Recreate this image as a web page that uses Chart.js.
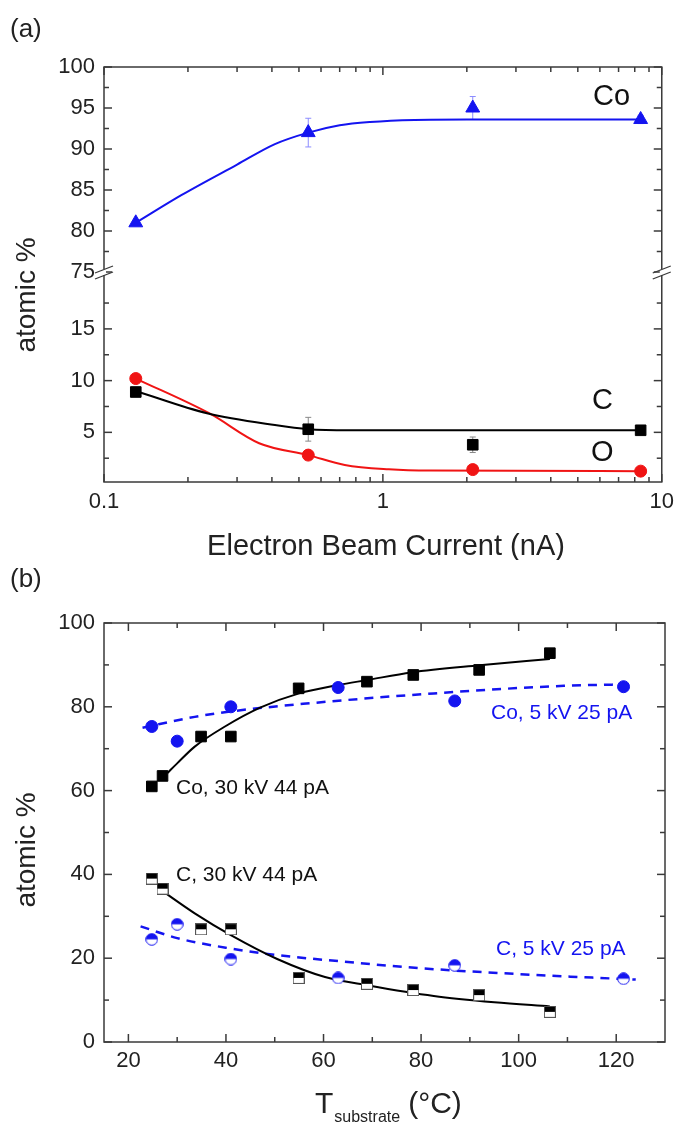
<!DOCTYPE html>
<html>
<head>
<meta charset="utf-8">
<title>atomic % vs beam current and substrate temperature</title>
<script src="https://cdn.jsdelivr.net/npm/chart.js@4.4.0/dist/chart.umd.min.js"></script>
<style>
  html, body { margin: 0; padding: 0; background: #fff; }
  #wrap { position: relative; width: 681px; height: 1124px; }
  canvas { position: absolute; left: 0; }
  #chartA { top: 0; }
  #chartB { top: 560px; }
</style>
</head>
<body>
<div id="wrap">
  <canvas id="chartA" width="681" height="560"></canvas>
  <canvas id="chartB" width="681" height="564"></canvas>
</div>
<script>
// ===== Data (a): composition vs electron beam current =====
const currentNA = [0.13, 0.54, 2.1, 8.4];
const coA = [81.0, 92.0, 95.0, 93.6];
const cA = [8.9, 5.3, 3.8, 5.2];
const oA = [10.2, 2.8, 1.4, 1.25];
const coAErr = [0.3, 1.75, 1.4, 0.5];
const cAErr = [0.3, 1.15, 0.75, 0.25];

// guide-to-the-eye curves
const coFitAX = [0.13, 0.19, 0.3, 0.41, 0.54, 0.7, 0.9, 1.3, 2, 8.4];
const coFitAY = [81, 84.4, 88.1, 90.6, 92, 92.9, 93.3, 93.55, 93.6, 93.6];
const cFitAX = [0.13, 0.234, 0.41, 0.54, 0.76, 8.4];
const cFitAY = [9.0, 6.85, 5.7, 5.3, 5.2, 5.2];
const oFitAX = [0.13, 0.24, 0.36, 0.54, 0.73, 1.05, 1.48, 8.4];
const oFitAY = [10.2, 6.8, 3.95, 2.8, 1.85, 1.43, 1.3, 1.25];

// ===== Data (b): composition vs substrate temperature =====
const tBlack = [24.8, 27.0, 34.9, 41.0, 54.9, 68.9, 78.4, 91.9, 106.4];
const coB30 = [61.0, 63.5, 72.9, 72.9, 84.4, 86.0, 87.6, 88.8, 92.8];
const cB30 = [39.0, 36.6, 26.9, 26.9, 15.3, 13.9, 12.4, 11.2, 7.2];
const tBlue = [24.8, 30.0, 41.0, 63.0, 86.9, 121.5];
const coB5 = [75.3, 71.8, 80.0, 84.6, 81.4, 84.8];
const cB5 = [24.5, 28.1, 19.8, 15.3, 18.3, 15.1];

const coFit30X = [28, 30, 33.6, 39.8, 47, 55, 63, 69, 78, 92, 106.4];
const coFit30Y = [64.2, 66.5, 70.5, 75.3, 79.8, 83.2, 85.2, 86.4, 88.2, 89.9, 91.4];
const coFit5X = [22.9, 33.6, 41, 55.8, 82.6, 109.3, 124];
const coFit5Y = [75.0, 77.6, 78.9, 80.7, 83.2, 85.0, 85.4];
const cFit30X = [27, 33.6, 41, 50.5, 60.3, 69.2, 82.6, 95, 106.4];
const cFit30Y = [36.0, 30.7, 25.5, 19.8, 15.5, 13.5, 11.0, 9.5, 8.5];
const cFit5X = [22.5, 30, 41, 50, 63, 80, 100, 124];
const cFit5Y = [27.6, 24.8, 22.3, 20.8, 19.3, 17.6, 16.2, 14.9];

// ===== Tick labels =====
const xTicksA = [0.1, 1, 10];
const yTicksTop = [75, 80, 85, 90, 95, 100];
const yTicksBot = [5, 10, 15];
const xTicksB = [20, 40, 60, 80, 100, 120];
const yTicksB = [0, 20, 40, 60, 80, 100];

// ===== Styles =====
const FONT = "'Liberation Sans', Arial, Helvetica, sans-serif";
const BLUE = '#1414f0';
const RED = '#f01414';
const AXIS = '#3a3a3a';
const tickFont = { family: FONT, size: 22 };

const pts = (xs, ys) => xs.map((x, i) => ({ x, y: ys[i] }));

function fit(xs, ys, axis, color, dash) {
  return {
    data: pts(xs, ys), yAxisID: axis, showLine: true, pointRadius: 0,
    borderColor: color, borderWidth: dash ? 2.5 : 2, borderDash: dash || [],
    cubicInterpolationMode: 'monotone'
  };
}

// half-filled markers for the carbon points of (b)
function halfSquare(size, fill) {
  const c = document.createElement('canvas');
  c.width = c.height = size;
  const g = c.getContext('2d');
  g.fillStyle = '#fff'; g.fillRect(0, 0, size, size);
  g.fillStyle = fill; g.fillRect(0, 0, size, size / 2);
  g.strokeStyle = '#555'; g.lineWidth = 1; g.strokeRect(0.5, 0.5, size - 1, size - 1);
  return c;
}
function halfCircle(size, fill) {
  const c = document.createElement('canvas');
  c.width = c.height = size;
  const g = c.getContext('2d');
  const r = size / 2;
  g.fillStyle = '#fff'; g.beginPath(); g.arc(r, r, r - 0.7, 0, Math.PI * 2); g.fill();
  g.fillStyle = fill; g.beginPath(); g.arc(r, r, r - 0.7, Math.PI, 0); g.fill();
  g.strokeStyle = fill; g.lineWidth = 1; g.beginPath(); g.arc(r, r, r - 0.7, 0, Math.PI * 2); g.stroke();
  return c;
}

// ===== Drawing helpers =====
function line(ctx, x1, y1, x2, y2) {
  ctx.beginPath(); ctx.moveTo(x1, y1); ctx.lineTo(x2, y2); ctx.stroke();
}

function text(ctx, str, x, y, size, color, align, base) {
  ctx.font = size + 'px ' + FONT;
  ctx.fillStyle = color || '#222';
  ctx.textAlign = align || 'left';
  ctx.textBaseline = base || 'middle';
  ctx.fillText(str, x, y);
}

function vtext(ctx, str, x, y, size) {
  ctx.save();
  ctx.translate(x, y);
  ctx.rotate(-Math.PI / 2);
  text(ctx, str, 0, 0, size, '#222', 'center', 'middle');
  ctx.restore();
}

// inward ticks on both sides of the box
function boxTicks(ctx, area, scale, values, len) {
  values.forEach(v => {
    const p = scale.getPixelForValue(v);
    if (scale.isHorizontal()) {
      line(ctx, p, area.bottom, p, area.bottom - len);
      line(ctx, p, area.top, p, area.top + len);
    } else {
      line(ctx, area.left, p, area.left + len, p);
      line(ctx, area.right, p, area.right - len, p);
    }
  });
}

function errorBars(chart) {
  const ctx = chart.ctx;
  chart.data.datasets.forEach((ds, i) => {
    if (!ds.errors) return;
    const meta = chart.getDatasetMeta(i);
    const ys = meta.yScale;
    ctx.save();
    ctx.strokeStyle = ds.errColor;
    ctx.lineWidth = 1;
    meta.data.forEach((pt, j) => {
      const e = ds.errors[j];
      if (!e) return;
      const v = ds.data[j].y;
      const y1 = ys.getPixelForValue(v - e);
      const y2 = ys.getPixelForValue(v + e);
      line(ctx, pt.x, y1, pt.x, y2);
      line(ctx, pt.x - 3, y1, pt.x + 3, y1);
      line(ctx, pt.x - 3, y2, pt.x + 3, y2);
    });
    ctx.restore();
  });
}

// ===== Panel (a) decorations =====
const panelA = {
  id: 'panelA',
  beforeDatasetsDraw: chart => errorBars(chart),
  afterDraw(chart) {
    const { ctx, chartArea: a, scales } = chart;
    ctx.save();
    ctx.strokeStyle = AXIS;
    ctx.lineWidth = 1.5;
    ctx.strokeRect(a.left, a.top, a.right - a.left, a.bottom - a.top);

    const xMinor = [];
    [0.1, 1].forEach(d => { for (let k = 2; k <= 9; k++) xMinor.push(d * k); });
    boxTicks(ctx, a, scales.x, xTicksA, 8);
    boxTicks(ctx, a, scales.x, xMinor, 5);
    boxTicks(ctx, a, scales.yTop, yTicksTop, 8);
    boxTicks(ctx, a, scales.yTop, [77.5, 82.5, 87.5, 92.5, 97.5], 5);
    boxTicks(ctx, a, scales.yBot, yTicksBot, 8);
    boxTicks(ctx, a, scales.yBot, [2.5, 7.5, 12.5, 17.5], 5);

    // axis break marks
    const yb = scales.yTop.bottom;
    [a.left, a.right].forEach(x => {
      ctx.fillStyle = '#fff';
      ctx.fillRect(x - 2, yb - 3, 4, 6);
      ctx.lineWidth = 1.3;
      line(ctx, x - 9, yb + 1, x + 9, yb - 6);
      line(ctx, x - 9, yb + 7, x + 9, yb);
    });

    text(ctx, '(a)', 10, 30, 26, '#222');
    vtext(ctx, 'atomic %', 27, 295, 28);
    text(ctx, 'Electron Beam Current (nA)', 386, 555, 29, '#222', 'center', 'alphabetic');
    text(ctx, 'Co', 593, 97, 29, '#111');
    text(ctx, 'C', 592, 401, 29, '#111');
    text(ctx, 'O', 591, 453, 29, '#111');
    ctx.restore();
  }
};

// ===== Panel (b) decorations =====
const panelB = {
  id: 'panelB',
  afterDraw(chart) {
    const { ctx, chartArea: a, scales } = chart;
    ctx.save();
    ctx.strokeStyle = AXIS;
    ctx.lineWidth = 1.5;
    ctx.strokeRect(a.left, a.top, a.right - a.left, a.bottom - a.top);
    boxTicks(ctx, a, scales.x, xTicksB, 8);
    boxTicks(ctx, a, scales.x, [30, 50, 70, 90, 110], 5);
    boxTicks(ctx, a, scales.y, yTicksB, 8);
    boxTicks(ctx, a, scales.y, [10, 30, 50, 70, 90], 5);

    text(ctx, '(b)', 10, 20, 26, '#222');
    vtext(ctx, 'atomic %', 27, 290, 28);

    // T_substrate (°C)
    let x = 315;
    text(ctx, 'T', x, 553, 30, '#222', 'left', 'alphabetic');
    x += ctx.measureText('T').width + 1;
    text(ctx, 'substrate', x, 562, 16, '#222', 'left', 'alphabetic');
    x += ctx.measureText('substrate').width + 8;
    text(ctx, '(°C)', x, 553, 30, '#222', 'left', 'alphabetic');

    text(ctx, 'Co, 5 kV 25 pA', 491, 153, 21, BLUE);
    text(ctx, 'Co, 30 kV 44 pA', 176, 228, 21, '#111');
    text(ctx, 'C, 30 kV 44 pA', 176, 315, 21, '#111');
    text(ctx, 'C, 5 kV 25 pA', 496, 389, 21, BLUE);
    ctx.restore();
  }
};

const hidden = { display: false, drawTicks: false };
const tickOpts = extra => Object.assign({ font: tickFont, color: '#222', autoSkip: false, maxRotation: 0 }, extra);

// ===== Chart (a) =====
new Chart(document.getElementById('chartA'), {
  type: 'scatter',
  data: {
    datasets: [
      { data: pts(currentNA, coA), yAxisID: 'yTop', pointStyle: 'triangle', pointRadius: 8,
        backgroundColor: BLUE, borderColor: BLUE, errors: coAErr, errColor: '#8c8cff' },
      { data: pts(currentNA, cA), yAxisID: 'yBot', pointStyle: 'rect', pointRadius: 7.5,
        backgroundColor: '#000', borderColor: '#000', errors: cAErr, errColor: '#888' },
      { data: pts(currentNA, oA), yAxisID: 'yBot', pointStyle: 'circle', pointRadius: 6,
        backgroundColor: RED, borderColor: RED },
      fit(coFitAX, coFitAY, 'yTop', BLUE),
      fit(cFitAX, cFitAY, 'yBot', '#000'),
      fit(oFitAX, oFitAY, 'yBot', RED)
    ]
  },
  options: {
    responsive: false,
    animation: false,
    layout: { padding: { top: 67, right: 14, left: 0, bottom: 0 } },
    plugins: { legend: { display: false }, tooltip: { enabled: false } },
    scales: {
      x: {
        type: 'logarithmic', min: 0.1, max: 10,
        grid: hidden, border: { display: false },
        afterBuildTicks: s => { s.ticks = xTicksA.map(v => ({ value: v })); },
        ticks: tickOpts({ padding: 7, callback: v => String(v) }),
        afterFit: s => { s.height = 78; }
      },
      // stacked axes are laid out bottom-up in the order given here
      yBot: {
        position: 'left', stack: 'a', stackWeight: 210, min: 0.2, max: 20.5,
        grid: hidden, border: { display: false },
        afterBuildTicks: s => { s.ticks = yTicksBot.map(v => ({ value: v })); },
        ticks: tickOpts({ padding: 9 }),
        afterFit: s => { s.width = 104; }
      },
      yTop: {
        position: 'left', stack: 'a', stackWeight: 205, min: 75, max: 100,
        grid: hidden, border: { display: false },
        afterBuildTicks: s => { s.ticks = yTicksTop.map(v => ({ value: v })); },
        ticks: tickOpts({ padding: 9 }),
        afterFit: s => { s.width = 104; }
      }
    }
  },
  plugins: [panelA]
});

// ===== Chart (b) =====
new Chart(document.getElementById('chartB'), {
  type: 'scatter',
  data: {
    datasets: [
      { data: pts(tBlack, coB30), pointStyle: 'rect', pointRadius: 7.5,
        backgroundColor: '#000', borderColor: '#000' },
      { data: pts(tBlue, coB5), pointStyle: 'circle', pointRadius: 6,
        backgroundColor: BLUE, borderColor: BLUE },
      { data: pts(tBlack, cB30), pointStyle: halfSquare(12, '#000'), pointRadius: 6 },
      { data: pts(tBlue, cB5), pointStyle: halfCircle(13, BLUE), pointRadius: 6 },
      fit(coFit30X, coFit30Y, 'y', '#000'),
      fit(coFit5X, coFit5Y, 'y', BLUE, [9, 7]),
      fit(cFit30X, cFit30Y, 'y', '#000'),
      fit(cFit5X, cFit5Y, 'y', BLUE, [9, 7])
    ]
  },
  options: {
    responsive: false,
    animation: false,
    layout: { padding: { top: 63, right: 16, left: 0, bottom: 0 } },
    plugins: { legend: { display: false }, tooltip: { enabled: false } },
    scales: {
      x: {
        type: 'linear', min: 15, max: 130,
        grid: hidden, border: { display: false },
        afterBuildTicks: s => { s.ticks = xTicksB.map(v => ({ value: v })); },
        ticks: tickOpts({ padding: 6 }),
        afterFit: s => { s.height = 82; }
      },
      y: {
        type: 'linear', min: 0, max: 100,
        grid: hidden, border: { display: false },
        afterBuildTicks: s => { s.ticks = yTicksB.map(v => ({ value: v })); },
        ticks: tickOpts({ padding: 9 }),
        afterFit: s => { s.width = 104; }
      }
    }
  },
  plugins: [panelB]
});
</script>
</body>
</html>
